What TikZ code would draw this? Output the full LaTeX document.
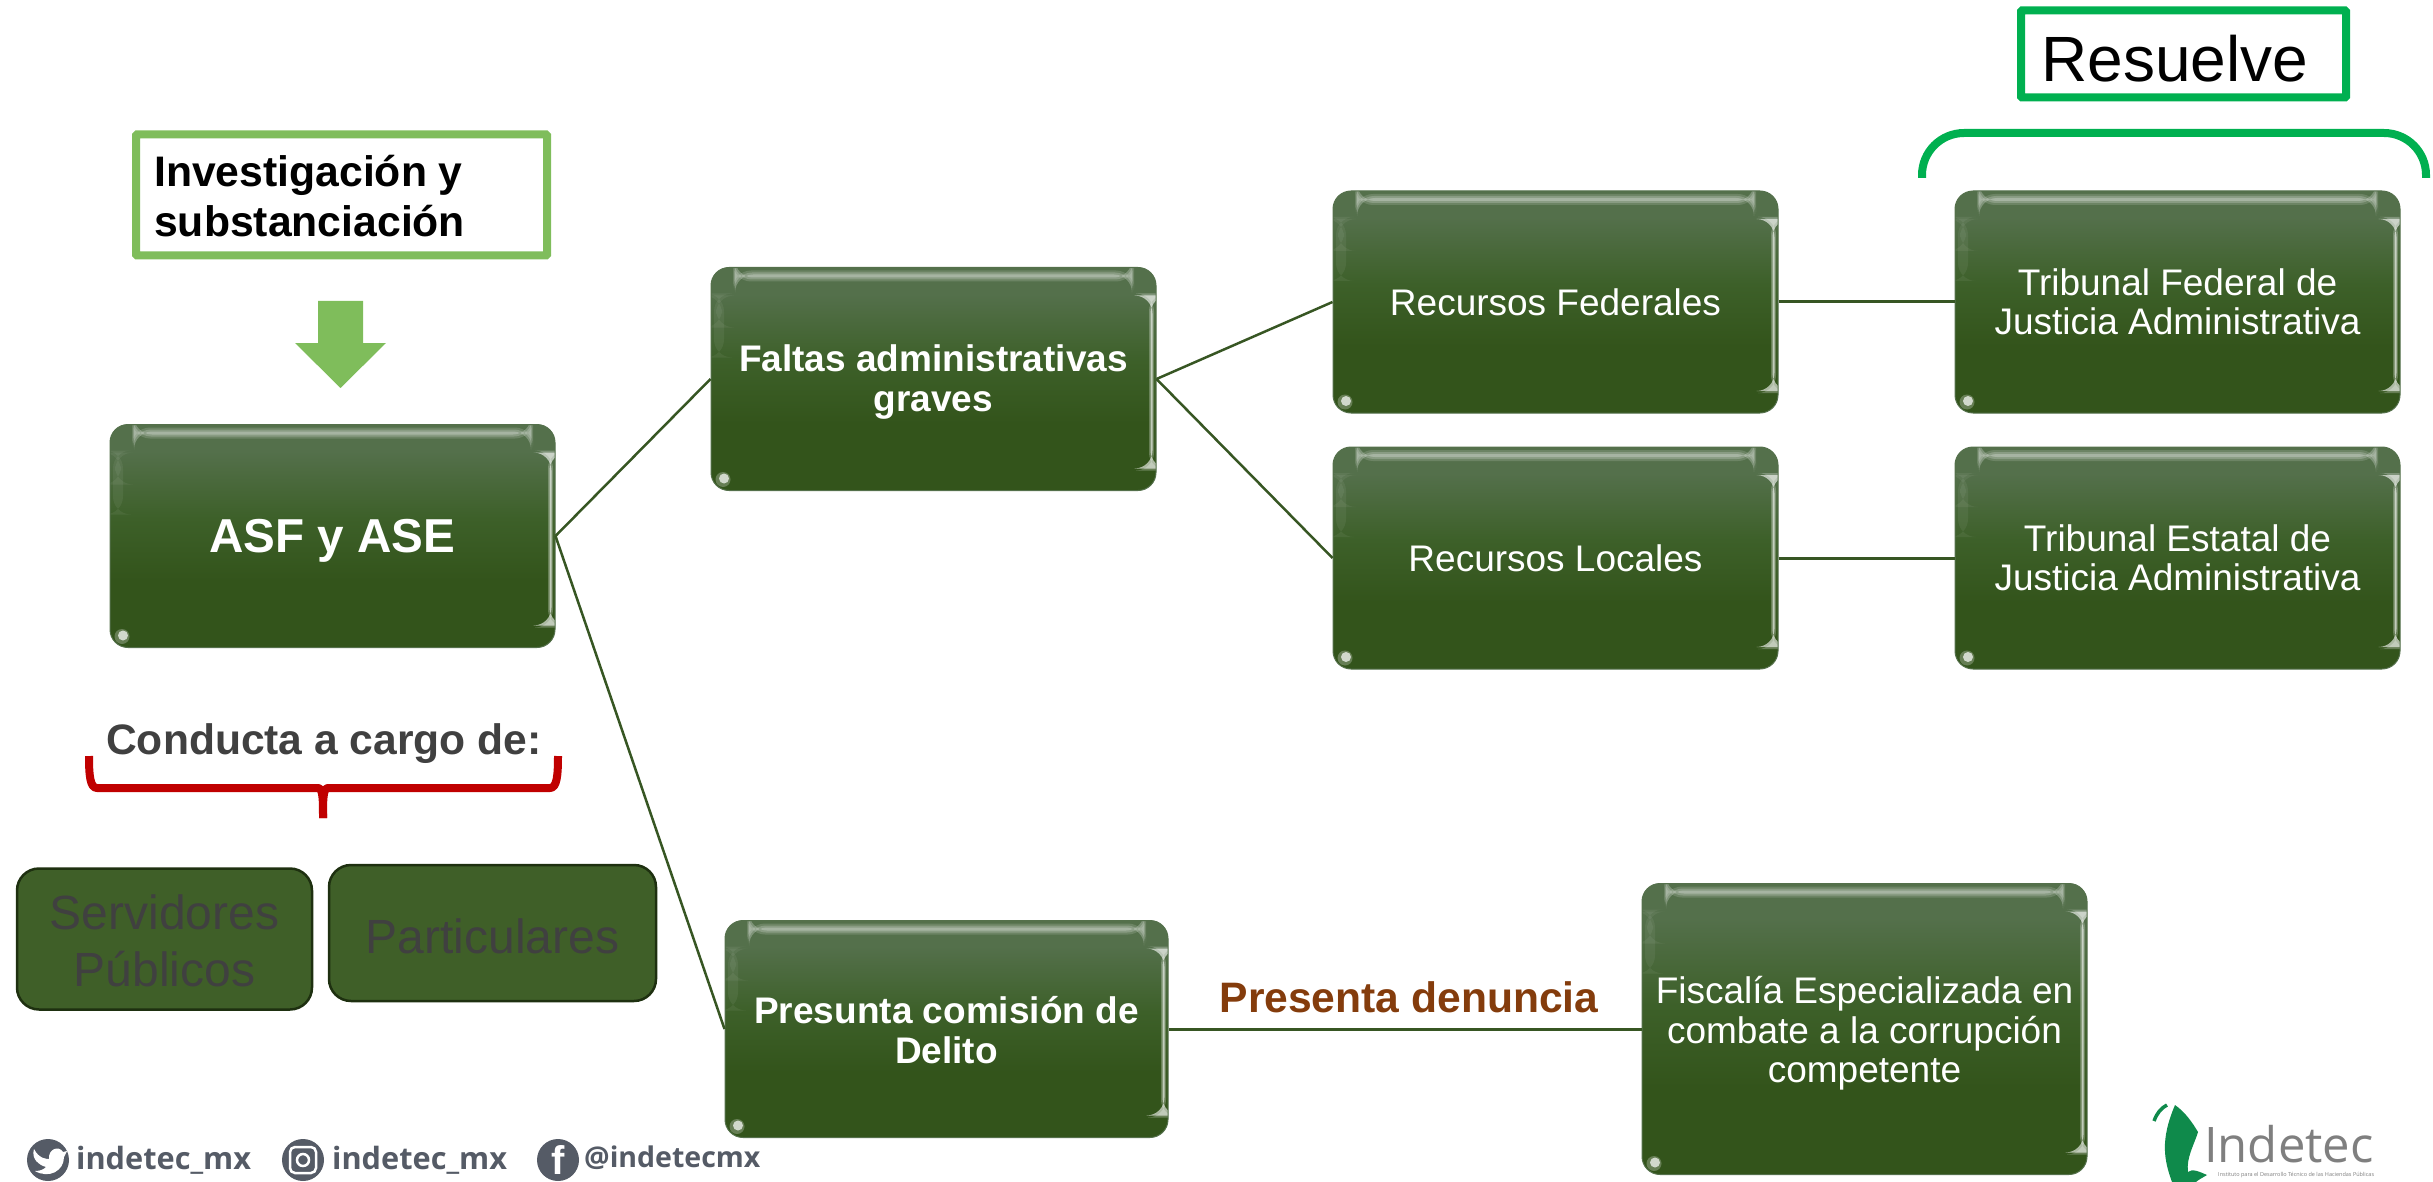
\documentclass[tikz,border=0pt]{standalone}
\usepackage{fontspec}
\setmainfont{Liberation Sans}
\newfontfamily\footfont{Open Sans}
\usetikzlibrary{calc}
\definecolor{gA}{HTML}{33541B}
\definecolor{gB}{HTML}{3D6029}
\definecolor{gC}{HTML}{54704B}
\definecolor{lineG}{HTML}{375623}
\definecolor{flat}{HTML}{3F5F28}
\definecolor{flatEdge}{HTML}{1E3010}
\definecolor{lightG}{HTML}{7FBD5B}
\definecolor{strongG}{HTML}{00B050}
\definecolor{braceR}{HTML}{C00000}
\definecolor{darkT}{HTML}{404040}
\definecolor{brownT}{HTML}{843C0C}
\definecolor{footG}{HTML}{555B66}
\definecolor{logoG}{HTML}{0F8A4B}
\definecolor{logoT}{HTML}{7F7F7F}
\pgfdeclareverticalshading{glossgreen}{100bp}{color(0bp)=(gA); color(25bp)=(gA); color(40bp)=(gA); color(54bp)=(gB); color(69bp)=(gC); color(75bp)=(gC); color(100bp)=(gC)}
\newcommand{\pbb}{path picture bounding box}
\newcommand{\topst}[1]{\rule{0pt}{#1pt}}
\tikzset{
 glossbox/.style={shape=rectangle, rounded corners=18pt, inner sep=0pt, shade, shading=glossgreen, draw=gC, line width=1pt, text=white, align=center,
  path picture={
   \fill[white,opacity=.14] ([shift={(22pt,-3pt)}]\pbb.north west) rectangle ([shift={(-22pt,-14pt)}]\pbb.north east);
   \fill[white,opacity=.2] ([shift={(23pt,-5pt)}]\pbb.north west) rectangle ([shift={(-23pt,-12pt)}]\pbb.north east);
   \fill[white,opacity=.25] ([shift={(24pt,-7pt)}]\pbb.north west) rectangle ([shift={(-24pt,-10pt)}]\pbb.north east);
   \fill[white,opacity=.25] ([shift={(-2pt,-26pt)}]\pbb.north east) rectangle ([shift={(-7pt,20pt)}]\pbb.south east);
   \fill[white,opacity=.6] ([shift={(-3.5pt,-28pt)}]\pbb.north east) rectangle ([shift={(-5.5pt,22pt)}]\pbb.south east);
   \fill[white,opacity=.06] ([shift={(3pt,-26pt)}]\pbb.north west) rectangle ([shift={(13pt,-90pt)}]\pbb.north west);
   \fill[white,opacity=.06] ([shift={(5pt,-28pt)}]\pbb.north west) rectangle ([shift={(11pt,-60pt)}]\pbb.north west);
   \fill[white,opacity=.25] ([shift={(12pt,11pt)}]\pbb.south west) circle[radius=7.5pt];
   \fill[white,opacity=.7] ([shift={(13pt,12pt)}]\pbb.south west) circle[radius=5pt];
  }},
 flatbox/.style={shape=rectangle, rounded corners=22pt, inner sep=0pt, fill=flat, draw=flatEdge, line width=2.5pt, text=darkT, align=center},
 frame/.style={shape=rectangle, inner sep=0pt, fill=white, line width=8pt, rounded corners=1pt},
 conn/.style={draw=lineG, line width=2.5pt},
 regtext/.style={font=\fontsize{37}{39.5}\selectfont},
 boldtext/.style={font=\fontsize{37}{39.5}\selectfont\bfseries},
 footlabel/.style={font=\footfont\fontsize{30.7}{32}\selectfont\bfseries, text=footG, inner sep=0pt, anchor=west},
 footdisc/.style={shape=circle, fill=footG, minimum size=42pt, inner sep=0pt}
}
\begin{document}
\begin{tikzpicture}[x=1pt,y=-1pt]
\useasboundingbox (0,0) rectangle (2433,1182);
% frames
\node[frame, draw=lightG, minimum width=411pt, minimum height=121pt] (inv) at (341.5,195) {};
\node[font=\fontsize{42.7}{50}\selectfont\bfseries, anchor=west, align=left, inner sep=0pt] (invt) at (154,196) {Investigación y\\substanciación};
\node[frame, draw=strongG, minimum width=325pt, minimum height=87pt] (res) at (2183.5,54) {};
\node[font=\fontsize{64}{70}\selectfont, anchor=west, inner sep=0pt] (rest) at (2041,59) {Resuelve};
% arrow
\fill[lightG] (318,301) -- (363,301) -- (363,343) -- (386,343) -- (340.5,388) -- (295,343) -- (318,343) -- cycle;
% main boxes
\node[glossbox, minimum width=445pt, minimum height=223pt, font=\fontsize{47.6}{52}\selectfont\bfseries] (asf) at (332.5,536) {\topst{42}ASF y ASE};
\node[glossbox, boldtext, minimum width=445pt, minimum height=223pt] (fal) at (933.5,379) {\topst{33}Faltas administrativas\\graves};
\node[glossbox, regtext, minimum width=445pt, minimum height=222pt] (rf) at (1555.5,302) {Recursos Federales};
\node[glossbox, regtext, minimum width=445pt, minimum height=222pt] (rl) at (1555.5,558) {Recursos Locales};
\node[glossbox, regtext, minimum width=445pt, minimum height=222pt] (tf) at (2177.5,302) {Tribunal Federal de\\Justicia Administrativa};
\node[glossbox, regtext, minimum width=445pt, minimum height=222pt] (te) at (2177.5,558) {Tribunal Estatal de\\Justicia Administrativa};
\node[glossbox, boldtext, minimum width=443pt, minimum height=217pt] (pre) at (946.5,1029) {\topst{29}Presunta comisión de\\Delito};
\node[glossbox, regtext, minimum width=445pt, minimum height=291pt] (fis) at (1864.5,1029) {\topst{36}Fiscalía Especializada en\\combate a la corrupción\\competente};
% connectors
\draw[conn] (asf.east) -- (fal.west);
\draw[conn] (asf.east) -- (pre.west);
\draw[conn] (fal.east) -- (rf.west);
\draw[conn] (fal.east) -- (rl.west);
\draw[conn, line width=3pt] (rf.east) -- (tf.west);
\draw[conn, line width=3pt] (rl.east) -- (te.west);
\draw[conn, line width=3pt] (pre.east) -- (fis.west);
\node[font=\fontsize{42.6}{46}\selectfont\bfseries, text=brownT, inner sep=0pt] (den) at (1409,997) {Presenta denuncia};
% green top bracket
\coordinate (gl) at (1922,178);
\coordinate (gr) at (2426,178);
\draw[strongG, line width=8pt, rounded corners=42pt] (gl) -- (1922,133) -- (2426,133) -- (gr);
% conducta
\node[font=\fontsize{42.6}{48}\selectfont\bfseries, text=darkT, inner sep=0pt] (con) at (324,744) {Conducta a cargo de:};
\coordinate (bl) at (89,756);
\coordinate (br) at (558,756);
\coordinate (bs) at (323,818);
\draw[braceR, line width=8pt, line join=round] (bl) .. controls (89,775) and (90,788) .. (97,788) -- (318,788) .. controls (323,788) and (323,800) .. (bs);
\draw[braceR, line width=8pt, line join=round] (br) .. controls (558,775) and (557,788) .. (550,788) -- (328,788) .. controls (323,788) and (323,800) .. (bs);
\node[flatbox, minimum width=295pt, minimum height=141pt, font=\fontsize{48}{57}\selectfont] (ser) at (164.5,939) {\topst{38}Servidores\\Públicos};
\node[flatbox, minimum width=327pt, minimum height=136pt, font=\fontsize{48}{57}\selectfont] (par) at (492.5,933) {\topst{42}Particulares};
% footer
\node[footdisc] (d1) at (48,1160) {};
\fill[white] (34,1149) .. controls (39,1159) and (47,1159) .. (49,1159) .. controls (48,1149) and (59,1145) .. (63,1152) -- (67,1151) -- (64,1157) .. controls (64,1171) and (49,1179) .. (35,1171) .. controls (41,1171) and (44,1169) .. (46,1167) .. controls (39,1165) and (31,1159) .. (34,1149) -- cycle;
\node[footlabel] (l1) at (76,1160) {indetec\_mx};
\node[footdisc] (d2) at (303,1160) {};
\draw[white, line width=2.5pt, rounded corners=5pt] (290,1147) rectangle (316,1173);
\draw[white, line width=2.5pt] (303,1160) circle[radius=6pt];
\node[footlabel] (l2) at (332,1160) {indetec\_mx};
\node[footdisc, text=white, font=\bfseries\fontsize{40}{40}\selectfont] (d3) at (558,1160) {\raisebox{-6pt}{f}};
\node[footlabel, font=\footfont\fontsize{28.5}{30}\selectfont\bfseries] (l3) at (584,1158) {@indetecmx};
% logo
\fill[logoG] (2175,1105) .. controls (2185,1112) and (2192,1122) .. (2198,1132) .. controls (2194,1145) and (2186,1158) .. (2188,1172) .. controls (2192,1168) and (2200,1172) .. (2207,1175) .. controls (2202,1178) and (2198,1180) .. (2196,1182) -- (2172,1182) .. controls (2164,1160) and (2160,1140) .. (2175,1105) -- cycle;
\draw[logoG, line width=3.5pt] (2154,1121) .. controls (2157,1113) and (2161,1108) .. (2167,1105);
\node[font=\footfont\fontsize{49}{52}\selectfont, text=logoT, anchor=west, inner sep=0pt] (logo) at (2204,1144) {Indetec};
\node[font=\footfont\fontsize{5.5}{6}\selectfont, text=logoT, anchor=west, inner sep=0pt] (logos) at (2218,1175) {Instituto para el Desarrollo Técnico de las Haciendas Públicas};
\end{tikzpicture}
\end{document}
